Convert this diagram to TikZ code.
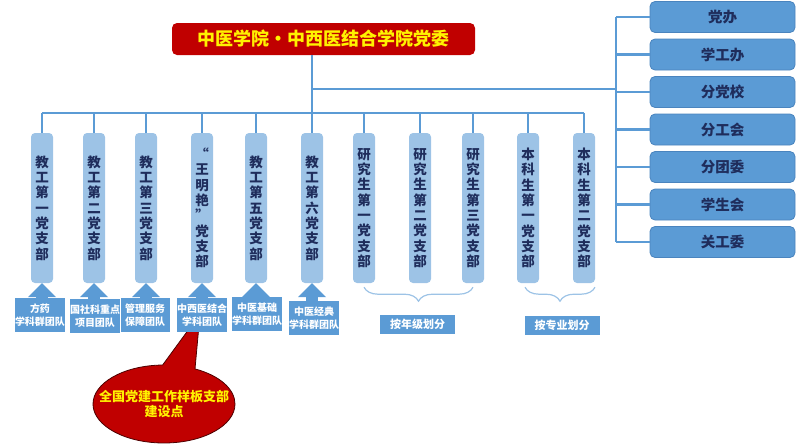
\documentclass[tikz,border=0pt]{standalone}
\usepackage{fontspec}
\setmainfont{Noto Sans CJK SC}
\usetikzlibrary{arrows.meta,decorations.pathreplacing,shapes.callouts}
\definecolor{lineblue}{HTML}{5B9BD5}
\definecolor{paleblue}{HTML}{9DC3E6}
\definecolor{midblue}{HTML}{5B9BD5}
\definecolor{edgeblue}{HTML}{4A84BE}
\definecolor{navy}{HTML}{1F2D5C}
\definecolor{darkred}{HTML}{C00000}
\tikzset{
	conn/.style={lineblue, line width=2.2pt},
	chief/.style={fill=darkred, rounded corners=5pt, minimum width=303pt, minimum height=32pt, text=yellow, font=\bfseries\fontsize{18}{20}\selectfont},
	office/.style={fill=midblue, draw=edgeblue, line width=0.8pt, rounded corners=5pt, minimum width=145pt, minimum height=31pt, text=navy, font=\bfseries\fontsize{14.5}{16}\selectfont},
	branch/.style={fill=paleblue, rounded corners=4pt, minimum width=22pt, minimum height=150pt, inner sep=0pt, align=center, text=navy, font=\bfseries\fontsize{13.5}{15.3}\selectfont},
	team/.style={fill=midblue, minimum width=49pt, minimum height=34pt, inner sep=0pt, align=center, text=white, font=\bfseries\fontsize{10}{13.5}\selectfont},
	uparrow/.style={midblue, line width=12pt, -{Triangle[width=28pt,length=14pt,line width=0pt]}},
	span/.style={draw=paleblue, line width=1.2pt, decorate, decoration={brace,mirror,amplitude=14pt}},
	group/.style={fill=midblue, minimum width=75pt, minimum height=19pt, inner sep=0pt, text=white, font=\bfseries\fontsize{11}{12}\selectfont},
	flag/.style={ellipse callout, fill=darkred, draw=black!60!darkred, line width=0.8pt, minimum width=142pt, minimum height=78pt, inner xsep=-15pt, inner ysep=0pt, align=center, text=yellow, font=\bfseries\fontsize{13}{15}\selectfont, callout pointer arc=27},
}
\begin{document}
\begin{tikzpicture}[x=1pt,y=-1pt]
	\useasboundingbox (0,0) rectangle (798,445);

	% callout first, so the team box covers its tip
	\coordinate (tip) at (200,314);
	\node[flag, callout absolute pointer={(tip)}] (flag) at (164,404) {全国党建工作样板支部\\建设点};

	\node[chief] (top) at (323.5,39) {中医学院・中西医结合学院党委};

	\node[office] (r1) at (722.5,17) {党办};
	\node[office] (r2) at (722.5,54.5) {学工办};
	\node[office] (r3) at (722.5,92) {分党校};
	\node[office] (r4) at (722.5,129.5) {分工会};
	\node[office] (r5) at (722.5,167) {分团委};
	\node[office] (r6) at (722.5,204.5) {学生会};
	\node[office] (r7) at (722.5,242) {关工委};

	\node[branch] (c1) at (42,208) {教\\工\\第\\一\\党\\支\\部};
	\node[branch] (c2) at (94,208) {教\\工\\第\\二\\党\\支\\部};
	\node[branch] (c3) at (146,208) {教\\工\\第\\三\\党\\支\\部};
	\node[branch] (c4) at (202,208) {“\\王\\明\\艳\\”\\党\\支\\部};
	\node[branch] (c5) at (256,208) {教\\工\\第\\五\\党\\支\\部};
	\node[branch] (c6) at (312,208) {教\\工\\第\\六\\党\\支\\部};
	\node[branch] (c7) at (364,208) {研\\究\\生\\第\\一\\党\\支\\部};
	\node[branch] (c8) at (420,208) {研\\究\\生\\第\\二\\党\\支\\部};
	\node[branch] (c9) at (473,208) {研\\究\\生\\第\\三\\党\\支\\部};
	\node[branch] (c10) at (528,208) {本\\科\\生\\第\\一\\党\\支\\部};
	\node[branch] (c11) at (584,208) {本\\科\\生\\第\\二\\党\\支\\部};

	\node[team] (b1) at (40,315) {方药\\学科群团队};
	\node[team] (b2) at (95,316) {国社科重点\\项目团队};
	\node[team] (b3) at (145,315) {管理服务\\保障团队};
	\node[team] (b4) at (202,315) {中西医结合\\学科团队};
	\node[team] (b5) at (257,314) {中医基础\\学科群团队};
	\node[team] (b6) at (314,318) {中医经典\\学科群团队};

	\node[group] (g1) at (417.5,324.5) {按年级划分};
	\node[group] (g2) at (562,325) {按专业划分};

	\coordinate (hub) at (312,113);
	\coordinate (side) at (312,89);
	\coordinate (spine) at (616,89);

	\path [conn] (top.south -| hub) edge (hub);
	\path [conn] (c1 |- hub) edge (c11 |- hub);
	\path [conn] (side) edge (spine);
	\path [conn] (spine |- r1) edge (spine |- r7);

	\path [conn] (spine |- r1) edge (r1);
	\path [conn] (spine |- r2) edge (r2);
	\path [conn] (spine |- r3) edge (r3);
	\path [conn] (spine |- r4) edge (r4);
	\path [conn] (spine |- r5) edge (r5);
	\path [conn] (spine |- r6) edge (r6);
	\path [conn] (spine |- r7) edge (r7);

	\path [conn] (c1 |- hub) edge (c1);
	\path [conn] (c2 |- hub) edge (c2);
	\path [conn] (c3 |- hub) edge (c3);
	\path [conn] (c4 |- hub) edge (c4);
	\path [conn] (c5 |- hub) edge (c5);
	\path [conn] (c6 |- hub) edge (c6);
	\path [conn] (c7 |- hub) edge (c7);
	\path [conn] (c8 |- hub) edge (c8);
	\path [conn] (c9 |- hub) edge (c9);
	\path [conn] (c10 |- hub) edge (c10);
	\path [conn] (c11 |- hub) edge (c11);

	\path [uparrow] (b1.north -| c1) edge (c1);
	\path [uparrow] (b2.north -| c2) edge (c2);
	\path [uparrow] (b3.north -| c3) edge (c3);
	\path [uparrow] (b4.north -| c4) edge (c4);
	\path [uparrow] (b5.north -| c5) edge (c5);
	\path [uparrow] (b6.north -| c6) edge (c6);

	\draw [span] ([yshift=-4pt]c7.south) -- ([yshift=-4pt]c9.south);
	\draw [span] ([xshift=-3pt,yshift=-4pt]c10.south) -- ([xshift=11pt,yshift=-4pt]c11.south);
\end{tikzpicture}
\end{document}
